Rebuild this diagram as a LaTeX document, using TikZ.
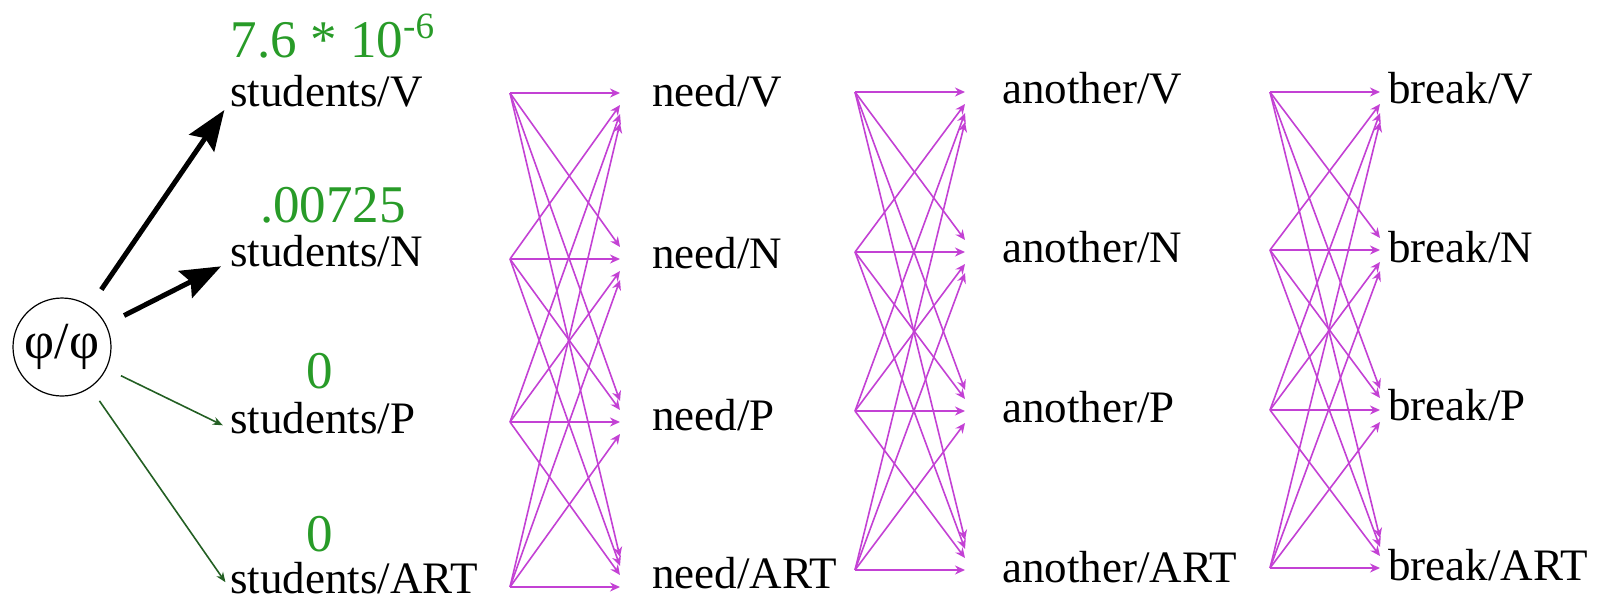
\documentclass[tikz,border=0pt]{standalone}
\usepackage{fontspec}
\setmainfont{Liberation Serif}
\usepackage{xcolor}
\usepackage{tikz}
\usetikzlibrary{arrows.meta}

\definecolor{probgreen}{RGB}{40,155,40}
\definecolor{edgegreen}{RGB}{35,95,35}
\definecolor{transpink}{RGB}{195,65,212}

\begin{document}
\begin{tikzpicture}[x=0.5pt,y=-0.5pt,>={Stealth[length=5pt,width=4.5pt]},
  word/.style={anchor=base west,inner sep=0pt,text height=0.62em,text depth=0.2em,font=\fontsize{22.5}{27}\selectfont},
  prob/.style={anchor=base,inner sep=0pt,text=probgreen,font=\fontsize{26.5}{30}\selectfont},
  trans/.style={->,transpink,line width=0.8pt},
  best/.style={-{Stealth[length=20pt,width=15pt,inset=3pt]},line width=2.5pt,shorten <=10pt,shorten >=5pt},
  zero/.style={-{Stealth[length=5pt,width=4pt]},edgegreen,line width=0.8pt,shorten <=8pt,shorten >=4pt}]
  \useasboundingbox (0,0) rectangle (1602,602);
  % start state
  \node[circle,draw,line width=0.6pt,minimum size=49pt,inner sep=0pt,font=\fontsize{26}{30}\selectfont] (phi) at (62,347) {φ/φ};
  % word/tag columns
  \node[word] (stuV) at (230,106) {students/V};
  \node[word] (stuN) at (230,266) {students/N};
  \node[word] (stuP) at (230,433) {students/P};
  \node[word] (stuA) at (230,593) {students/ART};
  \node[word] (needV) at (652,106) {need/V};
  \node[word] (needN) at (652,268) {need/N};
  \node[word] (needP) at (652,430) {need/P};
  \node[word] (needA) at (652,588) {need/ART};
  \node[word] (anoV) at (1002,103) {another/V};
  \node[word] (anoN) at (1002,262) {another/N};
  \node[word] (anoP) at (1002,422) {another/P};
  \node[word] (anoA) at (1002,582) {another/ART};
  \node[word] (brkV) at (1388,103) {break/V};
  \node[word] (brkN) at (1388,262) {break/N};
  \node[word] (brkP) at (1388,420) {break/P};
  \node[word] (brkA) at (1388,580) {break/ART};
  % probabilities
  \node[prob] (pV) at (333,57) {7.6 * 10\textsuperscript{-6}};
  \node[prob] (pN) at (333,222) {.00725};
  \node[prob] (pP) at (320,388) {0};
  \node[prob] (pA) at (320,551) {0};
  % first step
  \draw[best] (phi) -- (stuV.west);
  \draw[best] (phi) -- (stuN.west);
  \draw[zero] (phi) -- (stuP.west);
  \draw[zero] (phi) -- (stuA.west);
  % transition ends
  \coordinate (src1V) at (510,93);
  \coordinate (src1N) at (510,259);
  \coordinate (src1P) at (510,422);
  \coordinate (src1A) at (510,587);
  \coordinate (dst1V) at (620,93);
  \coordinate (dst1N) at (620,259);
  \coordinate (dst1P) at (620,422);
  \coordinate (dst1A) at (620,587);
  \coordinate (src2V) at (855,92);
  \coordinate (src2N) at (855,252);
  \coordinate (src2P) at (855,411);
  \coordinate (src2A) at (855,570);
  \coordinate (dst2V) at (965,92);
  \coordinate (dst2N) at (965,252);
  \coordinate (dst2P) at (965,411);
  \coordinate (dst2A) at (965,570);
  \coordinate (src3V) at (1270,92);
  \coordinate (src3N) at (1270,250);
  \coordinate (src3P) at (1270,410);
  \coordinate (src3A) at (1270,568);
  \coordinate (dst3V) at (1380,92);
  \coordinate (dst3N) at (1380,250);
  \coordinate (dst3P) at (1380,410);
  \coordinate (dst3A) at (1380,568);
  % students -> need
  \draw[trans] (src1V) -- (dst1V);
  \draw[trans] (src1V) -- ([yshift=6pt]dst1N);
  \draw[trans] (src1V) -- ([yshift=10.5pt]dst1P);
  \draw[trans] (src1V) -- ([yshift=15pt]dst1A);
  \draw[trans] (src1N) -- ([yshift=-6pt]dst1V);
  \draw[trans] (src1N) -- (dst1N);
  \draw[trans] (src1N) -- ([yshift=6pt]dst1P);
  \draw[trans] (src1N) -- ([yshift=10.5pt]dst1A);
  \draw[trans] (src1P) -- ([yshift=-10.5pt]dst1V);
  \draw[trans] (src1P) -- ([yshift=-6pt]dst1N);
  \draw[trans] (src1P) -- (dst1P);
  \draw[trans] (src1P) -- ([yshift=6pt]dst1A);
  \draw[trans] (src1A) -- ([yshift=-15pt]dst1V);
  \draw[trans] (src1A) -- ([yshift=-10.5pt]dst1N);
  \draw[trans] (src1A) -- ([yshift=-6pt]dst1P);
  \draw[trans] (src1A) -- (dst1A);
  % need -> another
  \draw[trans] (src2V) -- (dst2V);
  \draw[trans] (src2V) -- ([yshift=6pt]dst2N);
  \draw[trans] (src2V) -- ([yshift=10.5pt]dst2P);
  \draw[trans] (src2V) -- ([yshift=15pt]dst2A);
  \draw[trans] (src2N) -- ([yshift=-6pt]dst2V);
  \draw[trans] (src2N) -- (dst2N);
  \draw[trans] (src2N) -- ([yshift=6pt]dst2P);
  \draw[trans] (src2N) -- ([yshift=10.5pt]dst2A);
  \draw[trans] (src2P) -- ([yshift=-10.5pt]dst2V);
  \draw[trans] (src2P) -- ([yshift=-6pt]dst2N);
  \draw[trans] (src2P) -- (dst2P);
  \draw[trans] (src2P) -- ([yshift=6pt]dst2A);
  \draw[trans] (src2A) -- ([yshift=-15pt]dst2V);
  \draw[trans] (src2A) -- ([yshift=-10.5pt]dst2N);
  \draw[trans] (src2A) -- ([yshift=-6pt]dst2P);
  \draw[trans] (src2A) -- (dst2A);
  % another -> break
  \draw[trans] (src3V) -- (dst3V);
  \draw[trans] (src3V) -- ([yshift=6pt]dst3N);
  \draw[trans] (src3V) -- ([yshift=10.5pt]dst3P);
  \draw[trans] (src3V) -- ([yshift=15pt]dst3A);
  \draw[trans] (src3N) -- ([yshift=-6pt]dst3V);
  \draw[trans] (src3N) -- (dst3N);
  \draw[trans] (src3N) -- ([yshift=6pt]dst3P);
  \draw[trans] (src3N) -- ([yshift=10.5pt]dst3A);
  \draw[trans] (src3P) -- ([yshift=-10.5pt]dst3V);
  \draw[trans] (src3P) -- ([yshift=-6pt]dst3N);
  \draw[trans] (src3P) -- (dst3P);
  \draw[trans] (src3P) -- ([yshift=6pt]dst3A);
  \draw[trans] (src3A) -- ([yshift=-15pt]dst3V);
  \draw[trans] (src3A) -- ([yshift=-10.5pt]dst3N);
  \draw[trans] (src3A) -- ([yshift=-6pt]dst3P);
  \draw[trans] (src3A) -- (dst3A);
\end{tikzpicture}
\end{document}
